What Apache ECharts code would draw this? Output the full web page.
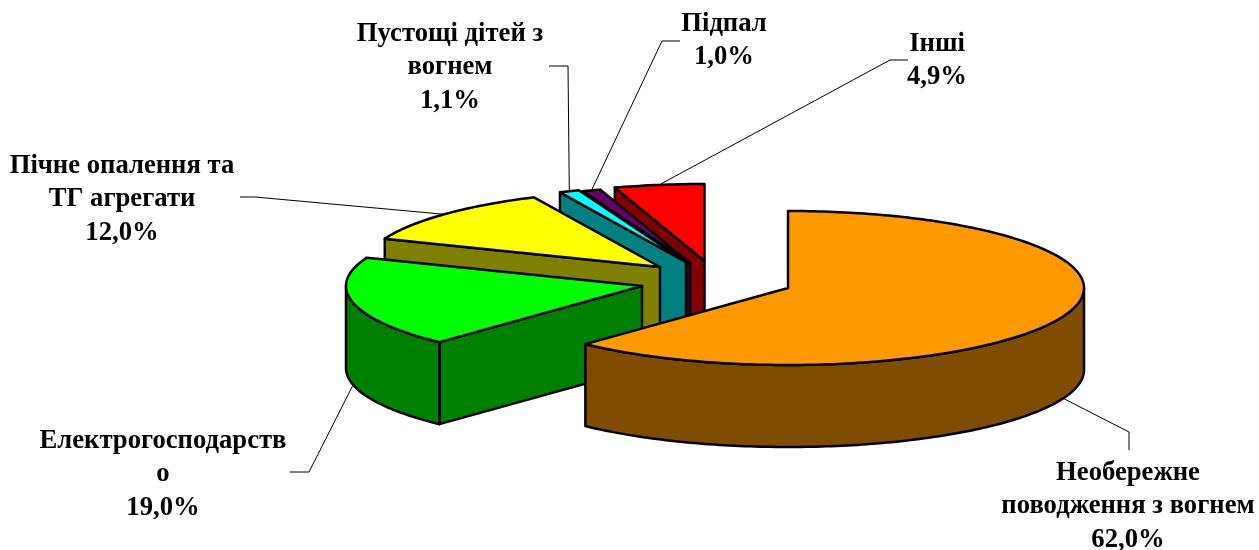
<!DOCTYPE html>
<html>
<head>
<meta charset="utf-8">
<style>
    html, body { margin: 0; padding: 0; background: #fff; }
    #chart { width: 1259px; height: 550px; }
</style>
</head>
<body>
<div id="chart"></div>
<script src="https://cdn.jsdelivr.net/npm/echarts@6/dist/echarts.min.js"></script>
<script>
// data
const categories = [
    'Необережне\nповодження з вогнем',
    'Електрогосподарств\nо',
    'Пічне опалення та\nТГ агрегати',
    'Пустощі дітей з\nвогнем',
    'Підпал',
    'Інші'
];
const shares = [62.0, 19.0, 12.0, 1.1, 1.0, 4.9];

// colours
const topColors = ['#ff9900', '#00ff00', '#ffff00', '#00ffff', '#660066', '#ff0000'];
const sideColors = ['#804d00', '#008000', '#808000', '#008080', '#330033', '#800000'];

// layout of the exploded pie
const rx = 296, ry = 77, depth = 82;
const sliceCenters = [[788, 288], [642, 286], [660, 267], [686, 262], [690, 263], [704.5, 261]];
// label centre x, first line middle y
const labelPos = [[1128, 473], [163, 441], [122, 166], [450, 34], [724, 24], [937, 44]];
const lineStep = 33.6;
// leader line points after the anchor on the slice
const leaders = [
    [[1129, 432], [1129, 450]],
    [[309, 472], [290, 472]],
    [[255, 197], [240, 197]],
    [[568, 66], [549, 66]],
    [[662, 41], [680, 41]],
    [[890, 60], [908, 60]]
];

const total = shares.reduce((a, b) => a + b, 0);
const rad = d => d * Math.PI / 180;

// angle is clockwise from the top
function rimPoint(c, deg, dy) {
    return [c[0] + rx * Math.sin(rad(deg)), c[1] - ry * Math.cos(rad(deg)) + (dy || 0)];
}

function arcPoints(c, from, to, dy) {
    const pts = [];
    const n = Math.max(2, Math.ceil(Math.abs(to - from)));
    for (let k = 0; k <= n; k++) {
        pts.push(rimPoint(c, from + (to - from) * k / n, dy));
    }
    return pts;
}

function face(points, fill) {
    return {
        type: 'polygon',
        shape: { points: points },
        style: { fill: fill, stroke: '#000', lineWidth: 2.5, lineJoin: 'round' }
    };
}

function radialWall(c, deg, fill) {
    const edge = rimPoint(c, deg);
    return face([c, edge, [edge[0], edge[1] + depth], [c[0], c[1] + depth]], fill);
}

function renderSlice(params, api) {
    const i = api.value(0);
    const start = shares.slice(0, i).reduce((a, b) => a + b, 0) / total * 360;
    const end = start + api.value(1) / total * 360;
    const c = sliceCenters[i];
    const children = [];

    // walls that face the viewer
    if (Math.sin(rad(start)) < -1e-6) children.push(radialWall(c, start, sideColors[i]));
    if (Math.sin(rad(end)) > 1e-6) children.push(radialWall(c, end, sideColors[i]));
    const a = Math.max(start, 90), b = Math.min(end, 270);
    if (a < b) {
        children.push(face(arcPoints(c, a, b).concat(arcPoints(c, b, a, depth)), sideColors[i]));
    }
    // top
    children.push(face([c].concat(arcPoints(c, start, end)), topColors[i]));
    return { type: 'group', children: children };
}

function renderLabel(params, api) {
    const i = api.value(0);
    const start = shares.slice(0, i).reduce((a, b) => a + b, 0) / total * 360;
    const mid = start + api.value(1) / total * 180;
    const front = Math.cos(rad(mid)) < 0;
    const anchor = rimPoint(sliceCenters[i], mid, front ? depth : 0);
    const children = [{
        type: 'polyline',
        shape: { points: [anchor].concat(leaders[i]) },
        style: { fill: 'none', stroke: '#000', lineWidth: 1 }
    }];
    const lines = categories[i].split('\n').concat(api.value(1).toFixed(1).replace('.', ',') + '%');
    lines.forEach((line, k) => {
        children.push({
            type: 'text',
            style: {
                x: labelPos[i][0],
                y: labelPos[i][1] + k * lineStep,
                text: line,
                fill: '#000',
                font: 'bold 26.67px "Liberation Serif"',
                textAlign: 'center',
                textVerticalAlign: 'middle'
            }
        });
    });
    return { type: 'group', children: children };
}

const sliceData = shares.map((v, i) => [i, v]);

var myChart = echarts.init(document.getElementById('chart'), null, { renderer: 'canvas' });
myChart.setOption({
    backgroundColor: '#fff',
    animation: false,
    tooltip: { show: false },
    series: [
        {
            // back slices first, the big front slice last
            type: 'custom',
            coordinateSystem: 'none',
            z: 2,
            data: sliceData.slice().reverse(),
            renderItem: renderSlice
        },
        {
            type: 'custom',
            coordinateSystem: 'none',
            z: 1,
            data: sliceData,
            renderItem: renderLabel
        }
    ]
});
</script>
</body>
</html>
